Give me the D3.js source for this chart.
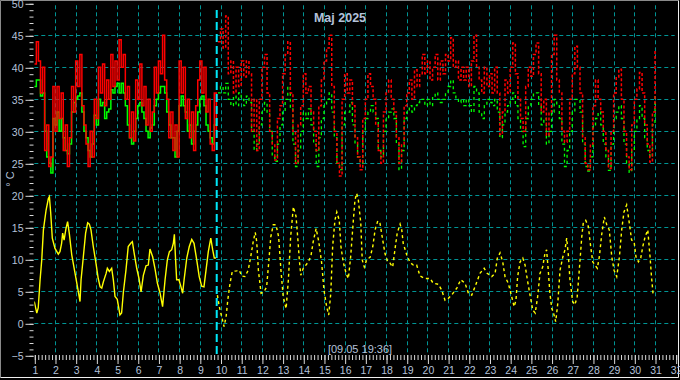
<!DOCTYPE html>
<html><head><meta charset="utf-8">
<script src="https://cdn.jsdelivr.net/npm/d3@7"></script>
<style>
html,body{margin:0;padding:0;background:#000;}
svg{display:block;}
text{font-family:"Liberation Sans",Arial,sans-serif;}
</style></head>
<body>
<script>
// ---------- DATA ----------
const title = "Maj 2025";
const nowLabel = "[09.05 19:36]";
const nowTime = 8.8167;               // days since 1 May 00:00
const dayLabels = [1,2,3,4,5,6,7,8,9,10,11,12,13,14,15,16,17,18,19,20,21,22,23,24,25,26,27,28,29,30,31,32];
const yTickValues = [-5,0,5,10,15,20,25,30,35,40,45,50];
const yGridValues = [0,5,10,15,20,25,30,35,40,45];

// measured history (0.1 day steps from day 0)
const histStart = 0, histStep = 0.1;
const histRed = [40.5,44,41,36,40,27,31,24.5,26,37,
 30,37,32,36,27,31,24.5,29,37,33,
 41,37,42,34,31,28,24.5,30,26,35,
 32,40,36,40.5,34,38,35,42,37,41,
 38,44.3,40,42,35,37,29,33,28.5,38,
 35,40.5,34,37,31,35,30,33,40,36,
 41,39,45,38,35,29,33,27,31,26,
 41,36,40,32,35,29,33,27,34,38,
 41,36,40,33,35,28,27,36,30];
const histGreen = [37,38,38,35.5,36,30,26,25,23.5,32,
 31,33,30,32,29,27,26.5,28,33,34.5,
 35,35.5,36,33,30,29,27,26,28,32.5,
 31,35,34,34.5,32,33,33.5,36.5,36,37,
 37.5,36,37.5,36,34,31,29,28,30,32,
 34,34.5,33,32,30,29,30.5,31,34,35,
 36,37,37,36,33,31,29,29,26,30,
 34,35.5,34,33,30,31,28,30,31,33,
 35,35.5,34,31,30,29,28,31,32];

// forecast (0.125 day steps)
const fcStart = 8.875, fcStep = 0.125;
const fcRed = [44,
 46,43,48,39,41,36,40,37,
 41,38.5,41,39,30,35,27,35,
 40,42,36,30,28,25.5,32,34,
 39,42,44,36,30,25,31,34,
 39,36,37,33,30,27,34,38,
 41,43,45,37,30,25,23,35,
 39,36,38,34,29,26,24,32,
 35,39,37,35,31,27,25,33,
 36,38,35,33,29,25,28,34,
 36,38,35,39.6,37,39,42,39,
 41,38,40,42,38,41,39,42,
 41,44.6,40,41,38,40,38,40,
 37,41,45,40,38,36,40,37,
 39,36,40,36,29.5,33,38,36,
 40,43.8,39,35,32,30,37,40,
 38.6,42,43.8,39,33,35,29.4,33,
 42,45,38,36,30,28.3,30,35,
 39,43.3,40,36,29,25,24,28,
 34,38,35,33,30,27,24.2,30,
 36,38.5,39.7,35,30,26,24,31,
 35,36.6,39.2,36,31,28,25.2,33,
 42.8];
const fcGreen = [36,
 37,36,37.5,35,34,35.5,34,36,
 35,34,35.5,34.5,30,27,28,31,
 33,34.5,33,30,26,25.3,28,31,
 33,35,37,33.5,28,24.5,27,30,
 33,32,33.5,31,28,24.5,29,32,
 34,35,36,33,29,25,24,31,
 33,33,34.5,31,28,26,25,30,
 32,33,34,33,32,27,26,30,
 32,33,33.5,32,28,24,27,32,
 33,34,33,34,34.5,35,35,34,
 35,34,35.5,36,35,34.5,35,36,
 37,38,36,35,34.5,35,34,35,
 34,33,37,36,33,32,34,35,
 34.5,34,35,33,29,31,33,34,
 35,36,34,32,30,27.6,32,34,
 35,36,36,34,31,32,28,30,
 33,35,34,32,28,24.5,27,30,
 33,35,35,33,28,24.5,23.8,26,
 31,32,33,31,28,26,23.9,28,
 32,33,34,32,28,25,23.6,27,
 30,32,34,32,29,27,26,31,
 36];

// yellow series (time in days since 1 May, value)
const yellowHistT = [0,0.12,0.19,0.28,0.36,0.44,0.57,0.68,0.73,0.79,0.87,1.0,1.16,1.24,1.32,1.37,1.44,1.53,1.61,1.69,1.81,1.97,2.13,2.21,2.26,2.37,2.48,2.58,2.66,2.74,2.85,2.98,3.09,3.18,3.26,3.34,3.47,3.53,3.63,3.74,3.82,3.9,4.01,4.14,4.22,4.3,4.43,4.54,4.66,4.74,4.83,4.95,5.06,5.16,5.27,5.4,5.51,5.59,5.72,5.83,5.95,6.08,6.2,6.32,6.43,6.53,6.64,6.72,6.77,6.83,6.88,6.99,7.09,7.17,7.24,7.37,7.49,7.61,7.72,7.85,7.97,8.09,8.2,8.3,8.41,8.53,8.62,8.7,8.78];
const yellowHistV = [3.4,1.6,2.4,6.8,9.9,14.6,17.7,19.5,19.8,17.4,13.3,11.7,10.8,11.2,12.5,14.1,13,14.8,15.9,14.1,10.7,7.8,4.9,3.4,6.8,10.4,14.1,15.7,15.5,14.6,12,9.4,7.0,5.7,5.5,6.5,7.8,8.6,8.1,8.6,6.8,4.2,3.75,1.3,1.6,4.7,8.3,12,12.5,12.75,10.9,8.6,7.0,4.9,7.5,9.0,9.1,11.6,10.4,8.6,6.25,4.7,2.6,6.8,9.9,11.2,11.5,12.5,13.9,9.9,6.8,6.8,5.7,4.7,6.8,10.2,12,13.1,12.5,9.9,7.3,5.8,5.7,8.3,11.2,13.3,11.5,10.2,10.2];
const yellowFcT = [8.85,8.94,9.06,9.17,9.27,9.35,9.46,9.57,9.78,9.91,10.02,10.18,10.34,10.46,10.58,10.68,10.75,10.83,10.96,11.10,11.23,11.34,11.43,11.55,11.68,11.81,11.92,12.03,12.17,12.28,12.39,12.52,12.65,12.73,12.81,12.88,13.0,13.13,13.24,13.37,13.48,13.62,13.75,13.89,14.0,14.13,14.23,14.33,14.42,14.53,14.62,14.74,14.82,14.93,15.07,15.18,15.29,15.42,15.50,15.58,15.66,15.78,15.85,15.95,16.07,16.23,16.36,16.47,16.60,16.71,16.84,16.95,17.08,17.19,17.32,17.43,17.54,17.68,17.76,17.83,18.0,18.16,18.32,18.48,18.64,18.88,19.13,19.28,19.53,19.69,19.85,20.01,20.17,20.42,20.61,20.82,20.98,21.14,21.30,21.54,21.74,21.89,22.11,22.27,22.38,22.51,22.64,22.75,22.91,23.07,23.19,23.28,23.36,23.48,23.61,23.72,23.83,23.96,24.09,24.21,24.33,24.44,24.57,24.68,24.76,24.84,24.92,25.01,25.08,25.20,25.30,25.41,25.54,25.65,25.73,25.81,25.89,26.02,26.13,26.24,26.34,26.46,26.53,26.65,26.78,26.89,26.99,27.10,27.21,27.31,27.42,27.55,27.67,27.79,27.91,28.02,28.15,28.28,28.39,28.50,28.63,28.76,28.87,28.99,29.08,29.20,29.31,29.41,29.52,29.65,29.76,29.83,29.91];
const yellowFcV = [4.4,2.6,1.0,-0.5,1.0,3.6,6.25,8.1,8.2,8.3,7.4,7.3,8.3,10.4,12.75,14.2,12.75,8.3,4.7,4.9,5.7,9.9,13.5,15.4,15.4,13.5,8.3,4.2,2.3,6.8,13.5,18.2,16.7,13.5,9.9,7.5,8.6,9.1,9.6,10.5,12.75,14.8,12.75,9.4,5.2,2.6,1.3,4.7,12,16.1,17.4,16.1,12,9.6,7.8,7.0,10.4,16.1,19.3,20.3,19.3,15.6,9.9,8.8,10,10.3,12,14.6,16,15.6,13,10.9,9.6,9.4,8.8,11.5,14.1,15.5,14.6,12.5,10.7,9.5,9.1,9.1,7.4,7.0,7.0,6.25,6.1,5.2,3.6,3.9,4.4,5.5,6.8,6.25,4.7,4.4,5.7,7.8,8.6,7.8,7.3,7.8,10.2,11.0,9.6,7.3,6.25,4.2,2.6,3.6,7.3,9.6,10.2,9.1,6.8,4.4,2.1,1.6,4.2,7.8,8.8,10.9,11.5,8.3,4.7,2.3,1.8,0.25,3.1,8.3,10.3,11.5,13.3,10.7,6.8,3.4,2.9,4.2,8.3,13.5,15.6,16.1,15.1,12,9.6,9.1,8.6,10.4,13.8,16.6,15.4,14.6,10.4,8.3,7.3,10.4,14.6,17.4,18.5,15.6,13,12.75,10.4,9.6,10.2,12,13.5,14.6,10.4,7.3,4.4];

// ---------- DRAW ----------
const W = 680, H = 380;
const textCol = "#b4c2da", tickCol = "#d8d8d8", gridCol = "#009494";
const x = d3.scaleLinear().domain([0, 31]).range([34.3, 675.7]);
const y = d3.scaleLinear().domain([-5, 50]).range([355.3, 3.3]);

const svg = d3.select("body").append("svg").attr("width", W).attr("height", H)
  .style("background", "#000");

// frame
svg.append("line").attr("x1",0.5).attr("y1",0.5).attr("x2",678.5).attr("y2",0.5).attr("stroke","#8a8a8a");
svg.append("line").attr("x1",0.5).attr("y1",0.5).attr("x2",0.5).attr("y2",377.5).attr("stroke","#8a8a8a");
svg.append("line").attr("x1",678.5).attr("y1",0.5).attr("x2",678.5).attr("y2",377.5).attr("stroke","#f0f0f0");
svg.append("line").attr("x1",0.5).attr("y1",377.5).attr("x2",678.5).attr("y2",377.5).attr("stroke","#f0f0f0");

// grid
const grid = svg.append("g").attr("stroke", gridCol).attr("stroke-width",1).attr("stroke-dasharray","4,3");
grid.selectAll(".h").data(yGridValues).join("line")
  .attr("x1", x(0)).attr("x2", x(31)-1)
  .attr("y1", d => Math.round(y(d))+0.5).attr("y2", d => Math.round(y(d))+0.5);
grid.selectAll(".v").data(d3.range(1,31)).join("line")
  .attr("x1", d => Math.round(x(d))+0.5).attr("x2", d => Math.round(x(d))+0.5)
  .attr("y1", y(50)+2).attr("y2", y(-5));

// y axis
const yAxis = d3.axisLeft(y).tickValues(yTickValues).tickSize(8).tickPadding(2).tickFormat(d3.format("d"));
const gy = svg.append("g").attr("transform","translate(33.5,0.5)").call(yAxis);
gy.select(".domain").remove();
gy.selectAll(".tick line").attr("stroke", tickCol);
gy.selectAll(".tick text").attr("fill", textCol).style("font-size","10.5px").style("font-family","Liberation Sans, Arial, sans-serif");
const yMinor = d3.axisLeft(y).tickValues(d3.range(-5,51,1)).tickSize(4).tickFormat("");
const gym = svg.append("g").attr("transform","translate(33.5,0.5)").call(yMinor);
gym.select(".domain").remove();
gym.selectAll(".tick line").attr("stroke", tickCol);

// x axis
const xAxis = d3.axisBottom(x).tickValues(d3.range(0,32)).tickSize(9).tickPadding(3)
  .tickFormat((d,i) => dayLabels[i]);
const gx = svg.append("g").attr("transform","translate(0.5,355)").call(xAxis);
gx.select(".domain").remove();
gx.selectAll(".tick line").attr("stroke", tickCol);
gx.selectAll(".tick text").attr("fill", textCol).style("font-size","10.5px").style("font-family","Liberation Sans, Arial, sans-serif");
const xMinor = d3.axisBottom(x).tickValues(d3.range(0, 31*6+1).map(i => i/6)).tickSize(5).tickFormat("");
const gxm = svg.append("g").attr("transform","translate(0.5,355)").call(xMinor);
gxm.select(".domain").remove();
gxm.selectAll(".tick line").attr("stroke", tickCol);

// clip
svg.append("clipPath").attr("id","plot").append("rect")
  .attr("x", x(0)).attr("y", y(50)).attr("width", x(31)-x(0)).attr("height", y(-5)-y(50));
const plot = svg.append("g").attr("clip-path","url(#plot)");

const stepSeries = (start, step, vals) => vals.map((v,i) => [start + i*step, v]);
const pairSeries = (ts, vs) => ts.map((t,i) => [t, vs[i]]);
const lineStep = d3.line().x(d => x(d[0])).y(d => y(d[1])).curve(d3.curveStepAfter);
const lineLin = d3.line().x(d => x(d[0])).y(d => y(d[1]));

// yellow
plot.append("path").datum(pairSeries(yellowHistT, yellowHistV)).attr("d", lineLin)
  .attr("fill","none").attr("stroke","#ffff00").attr("stroke-width",1.4);
plot.append("path").datum(pairSeries(yellowFcT, yellowFcV)).attr("d", lineLin)
  .attr("fill","none").attr("stroke","#ffff00").attr("stroke-width",1.4).attr("stroke-dasharray","3,3");

// green & red history
plot.append("path").datum(stepSeries(histStart, histStep, histGreen)).attr("d", lineStep)
  .attr("fill","none").attr("stroke","#00ff00").attr("stroke-width",1.5);
plot.append("path").datum(stepSeries(histStart, histStep, histRed)).attr("d", lineStep)
  .attr("fill","none").attr("stroke","#ff0000").attr("stroke-width",1.5);

// forecast
plot.append("path").datum(stepSeries(fcStart, fcStep, fcGreen)).attr("d", lineStep)
  .attr("fill","none").attr("stroke","#00ff00").attr("stroke-width",1.3).attr("stroke-dasharray","3,3");
plot.append("path").datum(stepSeries(fcStart, fcStep, fcRed)).attr("d", lineStep)
  .attr("fill","none").attr("stroke","#ff0000").attr("stroke-width",1.5).attr("stroke-dasharray","3,2");

// now marker
svg.append("line").attr("x1", x(nowTime)).attr("x2", x(nowTime)).attr("y1", 10).attr("y2", y(-5))
  .attr("stroke","#00e8f8").attr("stroke-width",2).attr("stroke-dasharray","8,4");

// texts
svg.append("text").attr("x", 340).attr("y", 22).attr("text-anchor","middle")
  .attr("fill", textCol).style("font-size","12.5px").style("font-weight","bold").text(title);
svg.append("text").attr("x", 360).attr("y", 353).attr("text-anchor","middle")
  .attr("fill", textCol).style("font-size","11px").text(nowLabel);
svg.append("text").attr("transform","translate(14,179) rotate(-90)").attr("text-anchor","middle")
  .attr("fill", textCol).style("font-size","11px").text("° C");
</script>
</body></html>
